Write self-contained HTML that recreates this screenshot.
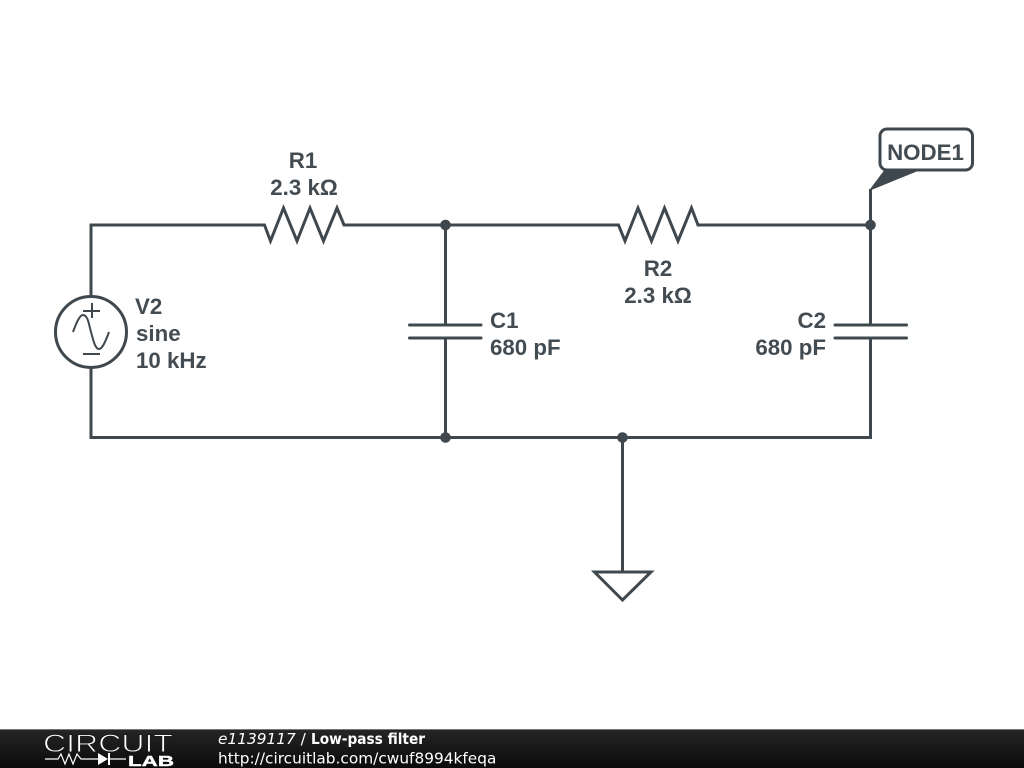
<!DOCTYPE html>
<html><head><meta charset="utf-8"><style>
html,body{margin:0;padding:0;background:#fff}
svg{display:block}
.l{font-family:"Liberation Sans",Arial,sans-serif;font-weight:bold;font-size:22.3px;fill:#434c52}
.f{font-family:"DejaVu Sans",sans-serif;font-size:15.35px;fill:#fff}
</style></head><body>
<svg width="1024" height="768" viewBox="0 0 1024 768" xmlns="http://www.w3.org/2000/svg">
<defs><linearGradient id="g" x1="0" y1="0" x2="0" y2="1"><stop offset="0" stop-color="#262626"/><stop offset="1" stop-color="#0a0a0a"/></linearGradient></defs>
<rect width="1024" height="768" fill="#fff"/>
<g fill="none" stroke="#3f484e" stroke-width="3" stroke-linejoin="miter">
<path d="M91 296V225H264.500L270.500 241 283.500 208 297 241 310 208 323.500 241 337 208 344 225H618.500L625 241 638 208 651.500 241 664.500 208 678 241 691.500 208 698 225H870.500V189"/>
<path d="M91 367V437.500H870.500V338M870.500 325V225"/>
<path d="M445.500 225V325M445.500 338V437"/>
<path stroke-linecap="round" d="M409.500 325H481M409.500 338H481M835 325H906.500M835 338H906.500"/>
<path d="M622.500 437V572M594.500 572H651L622.500 600Z"/>
<circle cx="91" cy="332" r="35.500"/>
<g stroke-width="2"><path d="M92 303V318M83 311H100M83 354H100"/>
<path d="M73 332C77 321 80 315 83 315C88 315 89 325 91 332C93 339 95 349 99 349C102 349 105 343 109 332"/></g>
<rect x="880" y="129" width="92.500" height="41" rx="7" fill="#fff"/>
</g>
<path d="M870 190L885 170H919Z" fill="#3f484e" stroke="#3f484e" stroke-width="1"/>
<g fill="#3f484e"><circle cx="445.500" cy="225" r="5.300"/><circle cx="870.500" cy="225" r="5.300"/><circle cx="445.500" cy="437.500" r="5.300"/><circle cx="622.500" cy="437.500" r="5.300"/></g>
<g>
<text class="l" x="303" y="168" text-anchor="middle">R1</text>
<text class="l" x="304" y="195" text-anchor="middle">2.3 kΩ</text>
<text class="l" x="658" y="276" text-anchor="middle">R2</text>
<text class="l" x="658" y="303" text-anchor="middle">2.3 kΩ</text>
<text class="l" x="135" y="314">V2</text>
<text class="l" x="136" y="341">sine</text>
<text class="l" x="136" y="368">10 kHz</text>
<text class="l" x="490" y="328">C1</text>
<text class="l" x="490" y="355">680 pF</text>
<text class="l" x="826" y="328" text-anchor="end">C2</text>
<text class="l" x="826" y="355" text-anchor="end">680 pF</text>
<text class="l" x="925.500" y="160" text-anchor="middle">NODE1</text>
</g>
<rect y="729" width="1024" height="39" fill="url(#g)"/>
<rect y="729" width="1024" height="1" fill="#777"/>
<text x="43" y="752" textLength="130" lengthAdjust="spacingAndGlyphs" style="font-family:'Liberation Sans',sans-serif;font-size:25px;fill:#fff;stroke:#1a1a1a;stroke-width:.9px">CIRCUIT</text>
<text x="128" y="766" textLength="46" lengthAdjust="spacingAndGlyphs" style="font-family:'Liberation Sans',sans-serif;font-weight:bold;font-size:15px;fill:#fff;stroke:#fff;stroke-width:.4px">LAB</text>
<g fill="none" stroke="#fff" stroke-width="1.2"><path d="M45 759H58L61 754 65 764 69 754 73 764 77 754 81 759H99M109 759H126"/></g>
<path d="M98 753L108 759 98 765Z" fill="#fff"/><rect x="108" y="753" width="2" height="12" fill="#fff"/>
<text class="f" x="218" y="744"><tspan font-style="italic">e1139117</tspan> /</text>
<text class="f" x="311" y="744" textLength="114" lengthAdjust="spacingAndGlyphs" font-weight="bold">Low-pass filter</text>
<text class="f" x="218" y="763.500">http://circuitlab.com/cwuf8994kfeqa</text>
</svg>
</body></html>
